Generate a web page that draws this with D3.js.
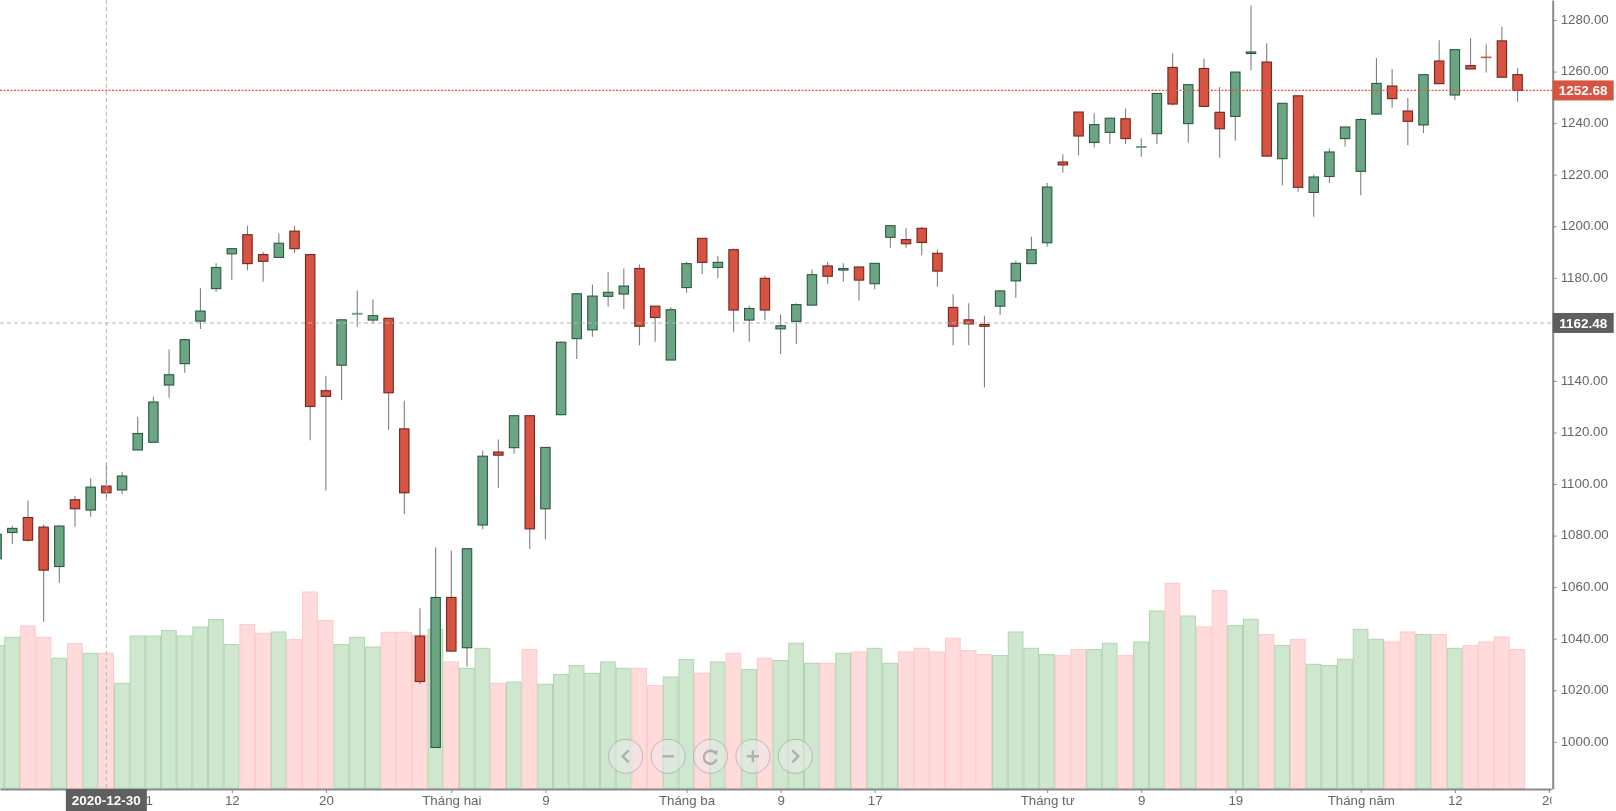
<!DOCTYPE html>
<html>
<head>
<meta charset="utf-8">
<script src="https://cdn.jsdelivr.net/npm/d3@7/dist/d3.min.js"></script>
<style>
html,body{margin:0;padding:0;background:#fff;overflow:hidden}
svg{display:block;font-family:"Liberation Sans",Arial,sans-serif;filter:blur(0.35px)}
</style>
</head>
<body>
<svg id="chart" width="1616" height="811"></svg>
<script>
const opens = [1071.0,1081.2,1087.0,1083.3,1068.0,1093.9,1089.9,1099.2,1097.7,1113.2,1116.2,1138.4,1146.7,1163.2,1175.8,1189.3,1196.7,1189,1187.9,1198.1,1189,1136.2,1146.1,1165.9,1163.6,1164.3,1121.4,1041,997.8,1056,1036.5,1084.1,1112.4,1114.1,1126.5,1090.4,1126.9,1156.4,1159.8,1172.8,1173.7,1183.6,1169,1148.1,1176.2,1195.3,1184,1190.9,1163.6,1179.8,1160.2,1163.1,1169.4,1184.6,1183,1184.2,1177.7,1195.7,1194.8,1199.2,1189.5,1168.5,1163.7,1161.9,1169,1178.8,1185.5,1193.6,1224.9,1244.3,1232.5,1236.4,1241.7,1230.6,1235.9,1261.6,1239.8,1261.2,1244.2,1242.6,1267,1263.7,1226.2,1250.6,1213.1,1219.3,1234,1221.3,1243.5,1254.4,1244.7,1239.3,1264.1,1250.9,1262.3,1265.6,1271.9,1258.8];
const highs = [1082,1083.8,1093.6,1084.3,1083.9,1095.4,1102.2,1108.4,1104.8,1126.1,1133.9,1152.2,1156,1175.9,1185.6,1191.5,1200.2,1190.1,1197.2,1200.2,1189,1142,1163.7,1175.1,1171.6,1164.3,1132.3,1051.8,1075.5,1074.1,1074.9,1112.9,1117.3,1126.5,1126.5,1114.4,1155.2,1174,1177.4,1182.2,1183.6,1185.2,1169,1168.6,1186.2,1195.3,1188.6,1191.4,1169.2,1180.8,1165.8,1170.1,1183.2,1186.1,1185.6,1184.2,1185.6,1200.2,1199.3,1199.8,1191,1173.6,1170.1,1165.3,1175.1,1186.6,1195.9,1216.8,1227.9,1244.3,1243.8,1241.9,1245.7,1234.1,1251.5,1267.1,1254.9,1265.1,1254,1259.8,1285.6,1271,1247.7,1250.6,1220.1,1230.2,1238.5,1241.9,1265.3,1261,1249.7,1258.8,1272.1,1268.5,1273,1270.6,1277.4,1261.4];
const lows = [1069,1076.7,1077.6,1046.6,1061.7,1083.4,1087.3,1094.8,1096.1,1113.2,1116.2,1133.5,1143.2,1160.1,1174.6,1179.1,1182.9,1178.5,1187.9,1189.7,1117,1097.5,1132.5,1161,1162.3,1121,1088.3,1022.4,997.8,1035.2,1029.1,1082.5,1098.6,1111.7,1074.8,1078.6,1126.7,1148.5,1157.1,1168.8,1167.9,1153.8,1155.2,1148.1,1174.2,1181.5,1179.9,1159.1,1155.2,1163.5,1150.3,1154.3,1169.4,1177.6,1178.5,1171.2,1175.6,1191.7,1191.7,1188.7,1176.5,1153.8,1153.8,1137.4,1165.6,1172.3,1185.5,1192,1220.8,1227.5,1230.5,1231.9,1231.9,1227,1231.9,1246.8,1232.4,1246.5,1226.6,1233.3,1260.5,1227.2,1215.9,1213.4,1203.7,1216.9,1230.9,1212,1243.5,1246,1231.4,1236.2,1255.3,1248.9,1261,1259.6,1257.8,1248.3];
const closes = [1080.5,1082.8,1078.2,1066.6,1083.7,1090.4,1098.8,1096.6,1103.1,1119.6,1131.8,1142.4,1156,1167.1,1184,1191.3,1185.5,1186.4,1193.4,1191.3,1130.1,1134,1163.7,1166.2,1165.3,1135.4,1096.6,1023.4,1056,1035.2,1074.9,1110.8,1111.2,1126.5,1082.6,1114.2,1155,1173.8,1172.9,1174.4,1176.8,1161.2,1164.6,1167.6,1185.5,1186,1186,1167.5,1168.1,1167.5,1161.4,1169.6,1181.2,1180.6,1183.6,1179.1,1185.6,1200.2,1193.2,1193.7,1182.6,1161.2,1162.1,1161.2,1174.9,1185.6,1190.9,1215.2,1223.8,1235,1239.4,1241.9,1234,1230.9,1251.5,1247.4,1254.9,1246.5,1237.8,1259.8,1267.6,1227.2,1247.7,1215.1,1219.1,1228.8,1238.5,1241.4,1255.4,1249.5,1240.7,1258.8,1255.3,1268.5,1261,1265.4,1257.8,1252.68];
const volumes = [142.7,151,162.3,151,130,144.7,135,135,105,152.3,152.3,157.7,152.3,161.3,168.7,143.7,163.7,155,156.3,148.7,196.3,167.7,143.7,151,141.3,156,156,153,159,126.3,120,140,105,106.3,138.7,104,113.7,122.7,115,126.3,120,120,102.7,111.3,128.7,115,126.3,135,118.7,130,127.7,145,125,125,135,136.3,140,125,136.3,140,136.3,150,137.7,133.7,132.7,156.3,140,133.7,132.7,138.7,138.7,145,132.7,146.3,177.3,205,172.3,161.3,197.7,162.7,169,153.7,142.7,149,124,122.7,129,159,149,146.3,156.3,153.7,153.7,140,142.7,146.3,151.3,138.7];

const priceTicks = [1000,1020,1040,1060,1080,1100,1120,1140,1180,1200,1220,1240,1260,1280];
const timeTickIndex = [9, 15, 21, 29, 35, 44, 50, 56, 67, 73, 79, 87, 93, 99];
const timeTickLabels = ["2021", "12", "20", "Tháng hai", "9", "Tháng ba", "9", "17", "Tháng tư", "9", "19", "Tháng năm", "12", "20"];
const lastPrice = 1252.68;
const crosshairPrice = 1162.48;
const crosshairIndex = 7;
const crosshairDate = "2020-12-30";

const W = 1616, H = 811, plotW = 1552.7, plotH = 789;
const x = d3.scaleLinear().domain([0.217, 99.24]).range([0, plotW]);
const y = d3.scaleLinear().domain([981.7, 1287.76]).range([plotH, 0]);
const vol = d3.scaleLinear().domain([0, 250]).range([plotH - 0.7, plotH - 250.7]);
const step = x(1) - x(0);
const bodyW = 9.4;
const rows = d3.range(opens.length);
const isUp = i => closes[i] >= opens[i];

const svg = d3.select("#chart");
const defs = svg.append("defs");
defs.append("clipPath").attr("id", "plot").append("rect")
  .attr("width", plotW).attr("height", plotH);
defs.append("clipPath").attr("id", "xclip").append("rect")
  .attr("x", 0).attr("y", -2).attr("width", plotW - 1).attr("height", 30);

const plot = svg.append("g").attr("clip-path", "url(#plot)");

plot.append("g").selectAll("rect").data(rows).join("rect")
  .attr("x", i => x(i) - step / 2 + 0.3)
  .attr("width", step - 1)
  .attr("y", i => vol(volumes[i]))
  .attr("height", i => vol(0) - vol(volumes[i]))
  .attr("fill", i => isUp(i) ? "#cfe6cf" : "#ffdbdb")
  .attr("stroke", i => isUp(i) ? "#aed6ae" : "#ffc8c8")
  .attr("stroke-width", 1);

plot.append("g").selectAll("line").data(rows).join("line")
  .attr("x1", i => x(i)).attr("x2", i => x(i))
  .attr("y1", i => y(highs[i])).attr("y2", i => y(lows[i]))
  .attr("stroke", "#808080").attr("stroke-width", 1.1);

plot.append("g").selectAll("rect").data(rows).join("rect")
  .attr("x", i => x(i) - bodyW / 2)
  .attr("width", bodyW)
  .attr("y", i => y(Math.max(opens[i], closes[i])))
  .attr("height", i => Math.abs(y(opens[i]) - y(closes[i])))
  .attr("fill", i => isUp(i) ? "#6ba583" : "#d75442")
  .attr("stroke", i => {
    const thin = Math.abs(y(opens[i]) - y(closes[i])) < 1;
    if (isUp(i)) return thin ? "#6ba583" : "#2a5a42";
    return thin ? "#d75442" : "#74251c";
  })
  .attr("stroke-width", 1.1);

// axes
const yAxis = d3.axisRight(y).tickValues(priceTicks).tickFormat(d3.format(".2f"))
  .tickSizeInner(4).tickSizeOuter(0).tickPadding(4);
const gy = svg.append("g").attr("transform", `translate(${plotW},0)`).call(yAxis);
gy.selectAll("text").attr("dy", ".25em");
const xAxis = d3.axisBottom(x).tickValues(timeTickIndex)
  .tickFormat((d, i) => timeTickLabels[i])
  .tickSizeInner(4).tickSizeOuter(0).tickPadding(3);
const gx = svg.append("g").attr("transform", `translate(0,${plotH})`)
  .attr("clip-path", "url(#xclip)").call(xAxis);
[gx, gy].forEach(g => {
  g.selectAll(".domain").attr("stroke", "#8a8a8a").attr("stroke-width", 2);
  g.selectAll(".tick line").attr("stroke", "#8a8a8a");
  g.selectAll("text").attr("fill", "#666").attr("font-size", 13.3)
    .attr("font-family", '"Liberation Sans",Arial,sans-serif');
});

// price and crosshair lines
svg.append("line").attr("x1", 0).attr("x2", plotW)
  .attr("y1", y(lastPrice)).attr("y2", y(lastPrice))
  .attr("stroke", "#f0503c").attr("stroke-width", 1.2).attr("stroke-dasharray", "2 1.5");
svg.append("line").attr("x1", 0).attr("x2", plotW)
  .attr("y1", y(crosshairPrice)).attr("y2", y(crosshairPrice))
  .attr("stroke", "#b4b4b4").attr("stroke-width", 1).attr("stroke-dasharray", "4 3");
svg.append("line").attr("x1", x(crosshairIndex)).attr("x2", x(crosshairIndex))
  .attr("y1", 0).attr("y2", plotH)
  .attr("stroke", "#b4b4b4").attr("stroke-width", 1).attr("stroke-dasharray", "4 3");

// value tags
function priceTag(value, color) {
  const cy = y(value);
  svg.append("rect").attr("x", plotW).attr("y", cy - 10)
    .attr("width", 61).attr("height", 20).attr("fill", color);
  svg.append("text").attr("x", plotW + 30.5).attr("y", cy).attr("dy", ".36em")
    .attr("text-anchor", "middle").attr("fill", "#fff")
    .attr("font-size", 13.5).attr("font-weight", "bold")
    .text(value.toFixed(2));
}
priceTag(lastPrice, "#d75442");
priceTag(crosshairPrice, "#5f5f5f");

// crosshair date tag
svg.append("rect").attr("x", x(crosshairIndex) - 40.5).attr("y", plotH)
  .attr("width", 81).attr("height", H - plotH).attr("fill", "#5f5f5f");
svg.append("text").attr("x", x(crosshairIndex)).attr("y", 805)
  .attr("text-anchor", "middle").attr("fill", "#fff")
  .attr("font-size", 13.5).attr("font-weight", "bold").text(crosshairDate);

// navigation buttons
const navNames = ["left", "minus", "reset", "plus", "right"];
const nav = d3.scalePoint().domain(navNames).range([625.7, 795.3]);
const navY = 756.3;
const btn = svg.append("g").selectAll("g").data(navNames).join("g")
  .attr("transform", d => `translate(${nav(d)},${navY})`);
btn.append("circle").attr("r", 17)
  .attr("fill", "rgba(235,235,235,0.5)")
  .attr("stroke", "rgba(150,150,150,0.55)").attr("stroke-width", 1);
const glyphs = {
  left: "M3,-6L-3,0L3,6",
  minus: "M-6,0H6",
  reset: "M5,-3A6.5,6.5 0 1 0 6,3",
  plus: "M-6,0H6M0,-6V6",
  right: "M-3,-6L3,0L-3,6"
};
btn.append("path").attr("d", d => glyphs[d]).attr("fill", "none")
  .attr("stroke", "#b0b0b0").attr("stroke-width", 2.4);
btn.filter(d => d === "reset").append("path").attr("d", "M2,-5L7,-6L6.5,-0.5Z").attr("fill", "#b0b0b0");
</script>
</body>
</html>
